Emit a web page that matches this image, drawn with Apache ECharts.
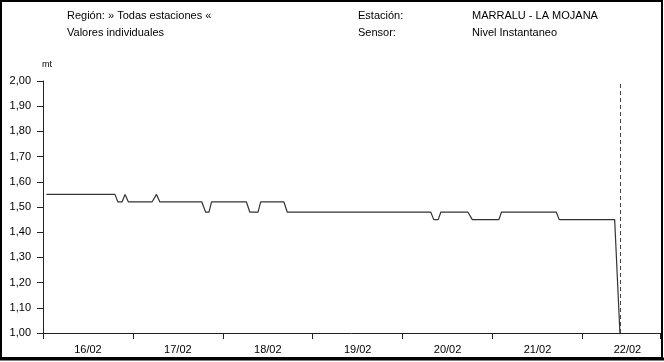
<!DOCTYPE html>
<html>
<head>
<meta charset="utf-8">
<script src="https://cdn.jsdelivr.net/npm/echarts@6/dist/echarts.min.js"></script>
<style>
html,body{margin:0;padding:0;background:#fff;}
#chart{width:664px;height:362px;}
</style>
</head>
<body>
<div id="chart"></div>
<script>
// Hours since 16/02 00:00
var hours  = [0.9, 19.2, 20.0, 21.1, 21.9, 22.8, 29.1, 30.3, 31.2, 42.4, 43.4, 44.3, 45.0, 54.3, 55.2, 57.4, 58.1, 64.3, 65.2, 103.5, 104.3, 105.5, 106.2, 113.4, 114.6, 121.7, 122.4, 137.0, 137.8, 152.6, 154.0];
var levels = [1.55, 1.55, 1.52, 1.52, 1.55, 1.52, 1.52, 1.55, 1.52, 1.52, 1.48, 1.48, 1.52, 1.52, 1.48, 1.48, 1.52, 1.52, 1.48, 1.48, 1.45, 1.45, 1.48, 1.48, 1.45, 1.45, 1.48, 1.48, 1.45, 1.45, 1.00];
var dayLabels = ['16/02', '17/02', '18/02', '19/02', '20/02', '21/02', '22/02'];
var nowMarker = 154.0;
var headerLeft = ['Región: » Todas estaciones «', 'Valores individuales'];
var headerMid = ['Estación:', 'Sensor:'];
var headerRight = ['MARRALU - LA MOJANA', 'Nivel Instantaneo'];
var unit = 'mt';

var FONT = '"Liberation Sans", Arial, sans-serif';
var chart = echarts.init(document.getElementById('chart'), null, {renderer: 'canvas'});
var data = hours.map(function (h, i) { return [h, levels[i]]; });
var xMax = 164.7;

function txt(x, y, s) {
  return {type: 'text', left: x, top: y, style: {text: s, font: '11px ' + FONT, fill: '#000'}};
}

chart.setOption({
  animation: false,
  backgroundColor: '#fff',
  grid: {left: 43, top: 81, width: 617, height: 252, containLabel: false},
  xAxis: [{
    type: 'value', min: 0, max: xMax, interval: 24,
    axisLine: {show: true, onZero: false, lineStyle: {color: '#222', width: 1}},
    axisTick: {show: true, length: 6, lineStyle: {color: '#222'}},
    axisLabel: {show: false},
    splitLine: {show: false}
  }, {
    type: 'value', min: 0, max: xMax, interval: 12, position: 'bottom',
    axisLine: {show: false}, axisTick: {show: false}, splitLine: {show: false},
    axisLabel: {
      show: true, margin: 11, color: '#000', fontFamily: FONT, fontSize: 11,
      showMinLabel: true, showMaxLabel: false,
      formatter: function (v) {
        if (Math.round(v) % 24 === 12) { return dayLabels[Math.floor(v / 24)] || ''; }
        return '';
      }
    }
  }],
  yAxis: {
    type: 'value', min: 1, max: 2, interval: 0.1,
    axisLine: {show: true, lineStyle: {color: '#222', width: 1}},
    axisTick: {show: true, length: 6, lineStyle: {color: '#222'}},
    splitLine: {show: false},
    axisLabel: {
      color: '#000', fontFamily: FONT, fontSize: 11, margin: 12,
      formatter: function (v) { return v.toFixed(2).replace('.', ','); }
    }
  },
  series: [{
    type: 'line', xAxisIndex: 0, data: data, showSymbol: false, symbol: 'none',
    lineStyle: {color: '#333', width: 1.2},
    markLine: {
      silent: true, symbol: 'none', label: {show: false},
      lineStyle: {color: '#444', type: [4, 3], width: 1},
      data: [{xAxis: nowMarker}]
    }
  }],
  graphic: [
    {type: 'rect', shape: {x: 1, y: 1, width: 661, height: 357}, style: {fill: 'none', stroke: '#000', lineWidth: 2}},
    {type: 'line', shape: {x1: 0, y1: 359, x2: 664, y2: 359}, style: {stroke: '#000', lineWidth: 3}},
    txt(67, 10, headerLeft[0]), txt(67, 27, headerLeft[1]),
    txt(358, 10, headerMid[0]), txt(358, 27, headerMid[1]),
    txt(472, 10, headerRight[0]), txt(472, 27, headerRight[1]),
    {type: 'text', left: 42, top: 60, style: {text: unit, font: '9px ' + FONT, fill: '#000'}}
  ]
});
</script>
</body>
</html>
